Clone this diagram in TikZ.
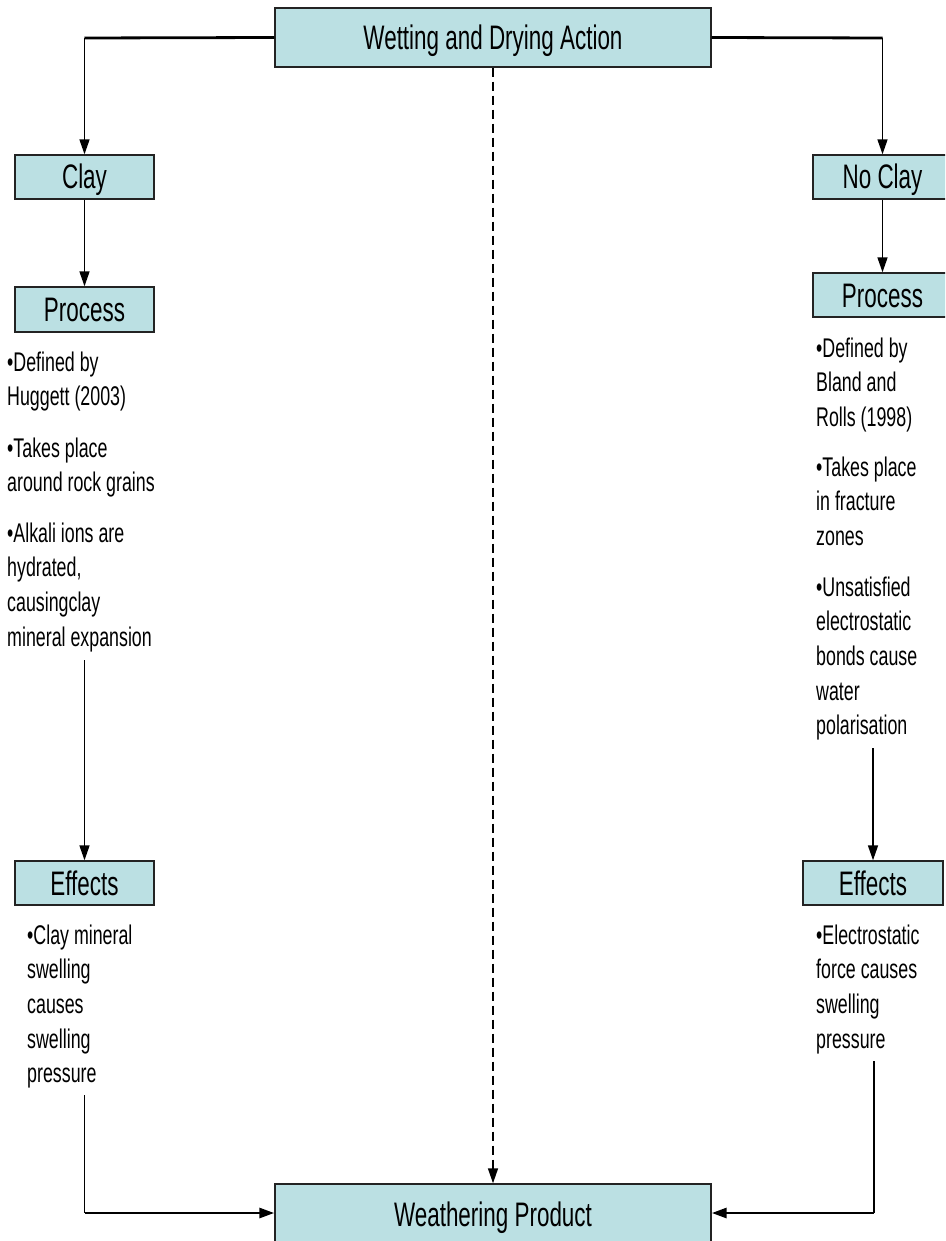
\documentclass[tikz,border=0pt]{standalone}
\usepackage{fontspec}
\setmainfont{Liberation Sans}[FakeStretch=0.66]
\usetikzlibrary{arrows.meta}
\definecolor{boxfill}{RGB}{187,224,227}
\definecolor{boxline}{RGB}{35,35,35}
\tikzset{
  box/.style={draw=boxline, line width=1.4pt, fill=boxfill, inner sep=0pt,
    font=\fontsize{34}{40}\selectfont, text height=24pt, text depth=0pt},
  body/.style={anchor=base west, inner sep=0pt, align=left,
    font=\fontsize{27}{34.7}\selectfont},
  tip/.style={-{Triangle[length=15pt,width=10pt]}},
  conn/.style={line width=1.6pt, tip},
  plain/.style={line width=1.6pt},
  thickseg/.style={line width=2.8pt},
}
\begin{document}
\begin{tikzpicture}[x=1pt,y=-1pt]
\useasboundingbox (0,0) rectangle (945,1241);
\clip (0,0) rectangle (945,1241);
% boxes
\node[box, minimum width=436pt, minimum height=59pt] (top) at (493,37.5) {Wetting and Drying Action};
\node[box, minimum width=139pt, minimum height=44pt] (clay) at (84.5,177) {Clay};
\node[box, minimum width=139pt, minimum height=45pt] (procL) at (84.5,309.5) {Process};
\node[box, minimum width=139pt, minimum height=44pt] (noclay) at (882.5,177) {No Clay};
\node[box, minimum width=139pt, minimum height=44pt] (procR) at (882.5,295) {Process};
\node[box, minimum width=139pt, minimum height=44pt] (effL) at (84.5,883) {Effects};
\node[box, minimum width=140pt, minimum height=44pt] (effR) at (873,883) {Effects};
\node[box, minimum width=436pt, minimum height=60pt] (wp) at (493,1214) {Weathering Product};
% texts (anchored at the baseline of the last line)
\node[body] (lp1) at (7,405.7) {•Defined by\\Huggett (2003)};
\node[body] (lp2) at (7,491.7) {•Takes place\\around rock grains};
\node[body] (lp3) at (7,646.1) {•Alkali ions are\\hydrated,\\causingclay\\mineral expansion};
\node[body] (rp1) at (816,426.4) {•Defined by\\Bland and\\Rolls (1998)};
\node[body] (rp2) at (816,545.4) {•Takes place\\in fracture\\zones};
\node[body] (rp3) at (816,734.8) {•Unsatisfied\\electrostatic\\bonds cause\\water\\polarisation};
\node[body] (le) at (27,1082.8) {•Clay mineral\\swelling\\causes\\swelling\\pressure};
\node[body] (re) at (816,1048.1) {•Electrostatic\\force causes\\swelling\\pressure};
% coordinates
\coordinate (tl) at (84.5,38);
\coordinate (tr) at (882.5,38);
\coordinate (ls) at (84.5,660);
\coordinate (rs) at (873,748);
\coordinate (lb0) at (84.5,1095);
\coordinate (lb1) at (84.5,1213);
\coordinate (rb0) at (874,1061);
\coordinate (rb1) at (874,1213);
% connectors
\draw[thickseg] (top.west) -- (tl);
\draw[conn] (tl) -- (clay.north);
\draw[thickseg] (top.east) -- (tr);
\draw[conn] (tr) -- (noclay.north);
\draw[conn] (clay) -- (procL);
\draw[conn] (noclay) -- (procR);
\draw[conn] (ls) -- (effL.north);
\draw[conn] (rs) -- (effR.north);
\draw[plain] (lb0) -- (lb1);
\draw[thickseg, tip] (lb1) -- (wp.west |- lb1);
\draw[plain] (rb0) -- (rb1);
\draw[thickseg, tip] (rb1) -- (wp.east |- rb1);
\draw[line width=1.4pt, dash pattern=on 9pt off 5pt, tip] (top.south) -- (wp.north);
\end{tikzpicture}
\end{document}
